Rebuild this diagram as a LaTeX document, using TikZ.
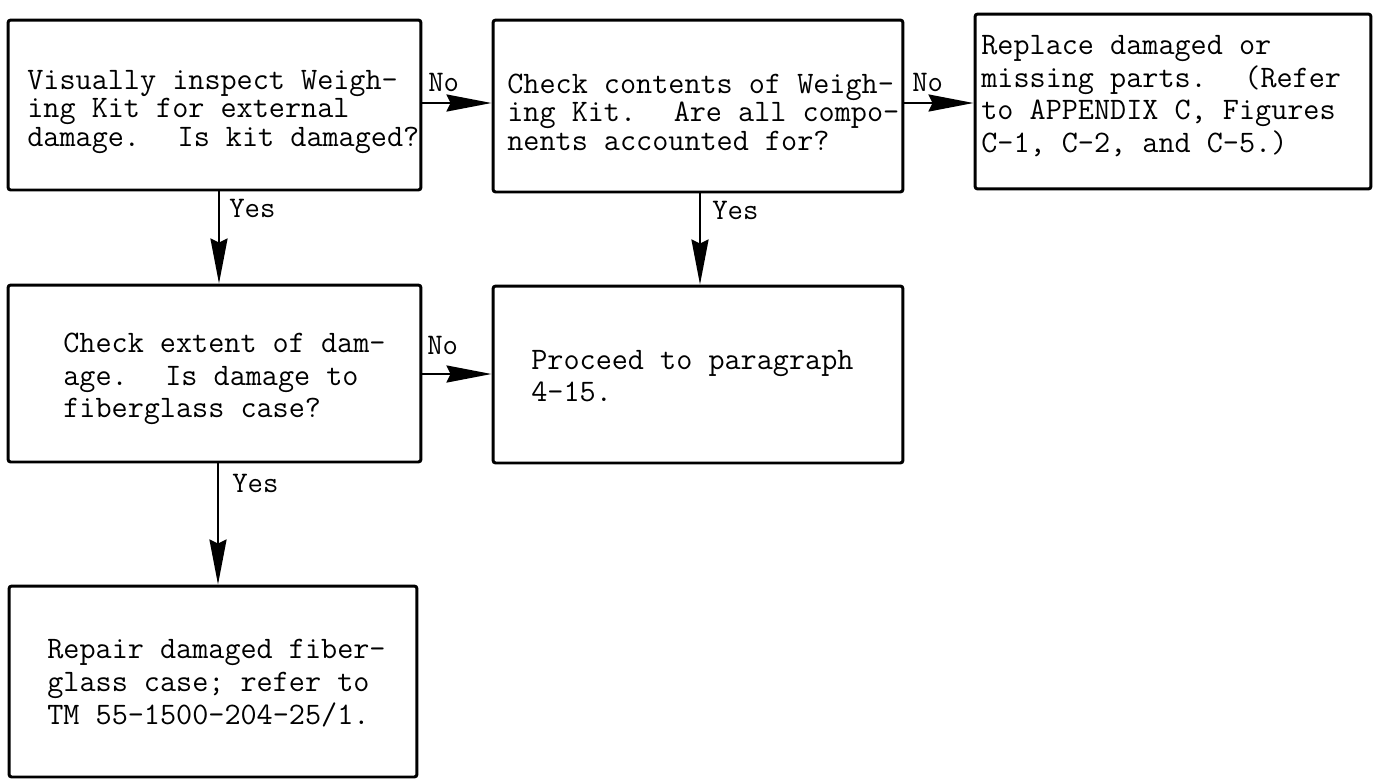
\documentclass[tikz,border=0pt]{standalone}
\usepackage{fontspec}
\usetikzlibrary{arrows.meta}
\tikzset{
  box/.style={draw, line width=1.7pt, rounded corners=1.5pt, inner sep=0pt},
  txt/.style={anchor=west, align=left, inner sep=0pt, font=\ttfamily\fontsize{17.8pt}{16.3pt}\selectfont},
  txtw/.style={anchor=west, align=left, inner sep=0pt, font=\ttfamily\fontsize{17.8pt}{18.6pt}\selectfont},
  lbl/.style={anchor=west, inner sep=0pt, font=\ttfamily\fontsize{17pt}{17pt}\selectfont},
  arr/.style={line width=1.4pt, -{Stealth[length=0.9cm, width=0.34cm, inset=0.08cm]}}
}
\begin{document}
\begin{tikzpicture}[x=0.02cm, y=-0.02cm]
\useasboundingbox (0,0) rectangle (1380,779);
% boxes
\node[box, minimum width=8.26cm, minimum height=3.40cm] (b1) at (214.5,105) {};
\node[box, minimum width=8.20cm, minimum height=3.44cm] (b2) at (698,106) {};
\node[box, minimum width=7.92cm, minimum height=3.50cm] (b3) at (1173,101.5) {};
\node[box, minimum width=8.26cm, minimum height=3.54cm] (b4) at (214.5,373.5) {};
\node[box, minimum width=8.20cm, minimum height=3.54cm] (b5) at (698,374.5) {};
\node[box, minimum width=8.16cm, minimum height=3.82cm] (b6) at (213,681.5) {};
% texts
\node[txt] (t1) at (27,112) {Visually inspect Weigh-\\ing Kit for external\\damage.~ Is kit damaged?};
\node[txt] (t2) at (507,112) {Check contents of Weigh-\\ing Kit.~ Are all compo-\\nents accounted for?};
\node[txtw] (t3) at (981,96) {Replace damaged or\\missing parts.~ (Refer\\to APPENDIX C, Figures\\C-1, C-2, and C-5.)};
\node[txtw] (t4) at (63,379) {Check extent of dam-\\age.~ Is damage to\\fiberglass case?};
\node[txtw] (t5) at (531,376) {Proceed to paragraph\\4-15.};
\node[txtw] (t6) at (47,683) {Repair damaged fiber-\\glass case; refer to\\TM 55-1500-204-25/1.};
% connectors
\coordinate (r1) at (0,103);
\coordinate (r2) at (0,374);
\coordinate (c1) at (219,0);
\coordinate (c2) at (700,0);
\coordinate (c3) at (218,0);
\draw[arr] (b1.east |- r1) -- (b2.west |- r1);
\draw[arr] (b2.east |- r1) -- (b3.west |- r1);
\draw[arr] (b1.south -| c1) -- (b4.north -| c1);
\draw[arr] (b2.south -| c2) -- (b5.north -| c2);
\draw[arr] (b4.east |- r2) -- (b5.west |- r2);
\draw[arr] (b4.south -| c3) -- (b6.north -| c3);
% labels
\node[lbl] (l1) at (428,82) {No};
\node[lbl] (l2) at (912,82) {No};
\node[lbl] (l3) at (229,208) {Yes};
\node[lbl] (l4) at (712,210) {Yes};
\node[lbl] (l5) at (427,345) {No};
\node[lbl] (l6) at (232,483) {Yes};
\end{tikzpicture}
\end{document}
